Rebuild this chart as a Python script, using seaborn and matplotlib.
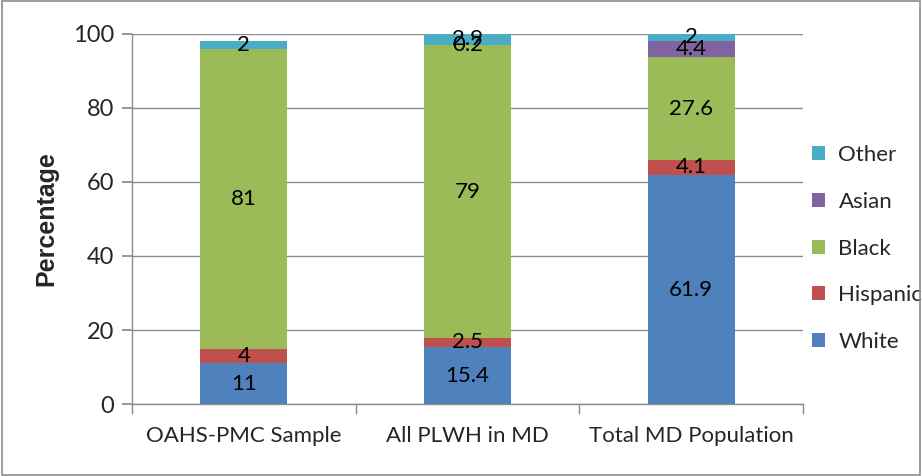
import matplotlib
matplotlib.use("Agg")
import matplotlib.pyplot as plt
import seaborn as sns
import pandas as pd
import numpy as np

categories = ["OAHS-PMC Sample", "All PLWH in MD", "Total MD Population"]
series = ["White", "Hispanic", "Black", "Asian", "Other"]
white = [11, 15.4, 61.9]
hispanic = [4, 2.5, 4.1]
black = [81, 79, 27.6]
asian = [0, 0.2, 4.4]
other = [2, 2.9, 2]
colors = {"White": "#4F81BD", "Hispanic": "#C0504D", "Black": "#9BBB59",
          "Asian": "#8064A2", "Other": "#4BACC6"}

values = {"White": white, "Hispanic": hispanic, "Black": black,
          "Asian": asian, "Other": other}

sns.set_theme(style="white")
plt.rcParams['font.family'] = ['Lato', 'DejaVu Sans']

fig = plt.figure(figsize=(9.22, 4.76), dpi=100)
ax = fig.add_axes([0.143, 0.151, 0.728, 0.778])

bottom = np.zeros(len(categories))
for s in series:
    df = pd.DataFrame({"cat": categories, "val": values[s]})
    sns.barplot(data=df, x="cat", y="val", color=colors[s], ax=ax,
                bottom=bottom, width=0.39, saturation=1, linewidth=0,
                label=s, order=categories)
    for i, v in enumerate(values[s]):
        if v > 0:
            ax.text(i, bottom[i] + v / 2, f"{v:g}", ha="center", va="center",
                    fontsize=16, color="black")
    bottom = bottom + np.array(values[s])

ax.set_xlim(-0.5, 2.5)
ax.set_ylim(0, 100)
ax.set_yticks(range(0, 101, 20))
ax.yaxis.grid(True, color="#8c8c8c", linewidth=1.0)
ax.set_axisbelow(True)
ax.set_xlabel("")
ax.set_ylabel("Percentage", fontsize=18, fontweight="bold", labelpad=10,
              family=["Liberation Sans", "DejaVu Sans"])
ax.tick_params(axis="y", labelsize=17, length=7, color="#8c8c8c", direction="out", left=True, pad=6)
ax.tick_params(axis="x", labelsize=16, length=0, pad=16)
for sp in ["top", "right"]:
    ax.spines[sp].set_visible(False)
for sp in ["left", "bottom"]:
    ax.spines[sp].set_color("#8c8c8c")
    ax.spines[sp].set_linewidth(1.0)
ax.set_xticks([-0.5, 0.5, 1.5, 2.5], minor=True)
ax.tick_params(axis="x", which="minor", length=7, color="#8c8c8c", direction="out", bottom=True)

h, l = ax.get_legend_handles_labels()
leg = ax.legend(h[::-1], l[::-1], loc="center left", bbox_to_anchor=(1.013, 0.42),
                frameon=False, fontsize=16, handlelength=0.6, handleheight=0.6,
                labelspacing=1.2, handletextpad=0.6, borderpad=0, borderaxespad=0)

fig.patches.append(plt.Rectangle((0.002, 0.002), 0.996, 0.996, transform=fig.transFigure,
                                 fill=False, edgecolor="#8c8c8c", linewidth=1.2))
fig.savefig("out.png", dpi=100)
